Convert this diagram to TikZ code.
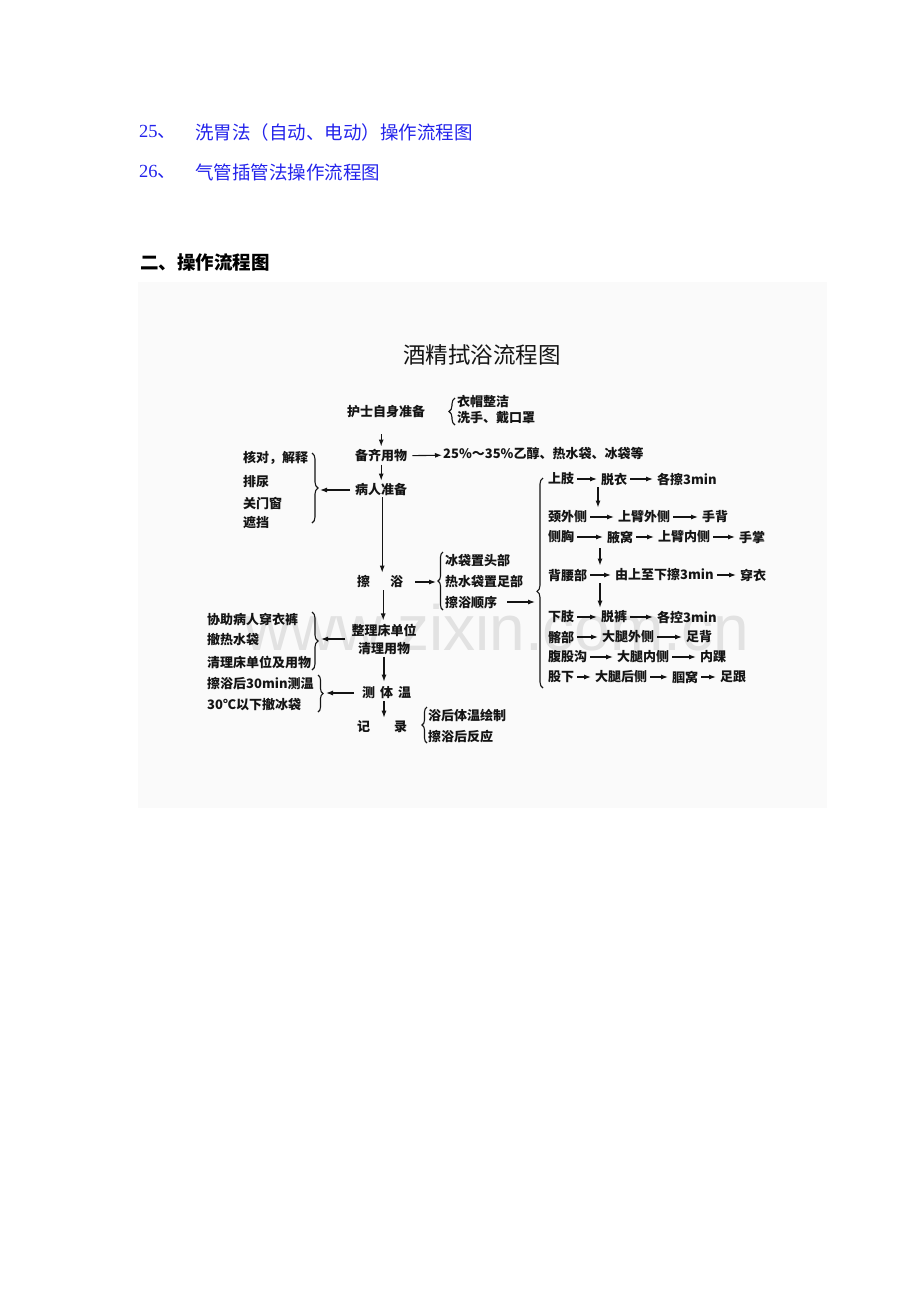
\documentclass[tikz,border=0pt]{standalone}
\usepackage{fontspec}
\setmainfont{Liberation Serif}
\newfontfamily\hei{Noto Sans CJK SC}
\newfontfamily\wmfont{Liberation Sans}
\usetikzlibrary{decorations.pathreplacing,arrows.meta}
\definecolor{linkblue}{RGB}{35,35,235}
\definecolor{paper}{RGB}{250,250,250}
\definecolor{wmark}{RGB}{226,226,226}
\definecolor{ink}{RGB}{20,20,20}
\tikzset{
	txt/.style={anchor=west,inner sep=0pt,text=ink,font=\hei\bfseries\fontsize{13}{18}\selectfont},
	brc/.style={draw=ink,line width=1.1pt,decorate,decoration={brace,amplitude=5pt}},
	arr/.style={->,draw=ink,line width=1.1pt,shorten <=2pt,shorten >=3pt},
	rarr/.style={->,draw=ink,line width=1.1pt,shorten <=3pt,shorten >=4pt},
}
\begin{document}
\begin{tikzpicture}[x=1pt,y=-1pt,>={Latex[length=7pt,width=5pt]}]
	\useasboundingbox (0,0) rectangle (920,1302);
	% text above the chart
	\path[every node/.style={anchor=west,inner sep=0pt,font=\fontsize{18.5}{20}\selectfont}]
		(139,132) node[text=linkblue] (n25) {25\hei 、}
		(195,132) node[text=linkblue] (t25) {\hei 洗胃法（自动、电动）操作流程图}
		(139,172) node[text=linkblue] (n26) {26\hei 、}
		(195,172) node[text=linkblue] (t26) {\hei 气管插管法操作流程图}
		(140,262) node (part2) {\hei\bfseries 二、操作流程图}
	;
	\fill[paper] (138,282) rectangle (827,808);
	\node[anchor=base west,inner sep=0pt,text=wmark,font=\wmfont\fontsize{64}{64}\selectfont] (wm) at (244,650) {www.zixin.com.cn};
	\node[inner sep=0pt,text=ink,font=\hei\fontsize{22.5}{24}\selectfont] (title) at (482,355) {酒精拭浴流程图};
	% main column
	\path[every node/.style=txt]
		(347,412) node (nurse) {护士自身准备}
		(457,401) node (dress) {衣帽整洁}
		(457,418) node (wash) {洗手、戴口罩}
		(355,456) node (prep) {备齐用物}
		(443,454) node (items) {25\%～35\%乙醇、热水袋、冰袋等}
		(355,490) node (patient) {病人准备}
		(243,458) node (check) {核对，解释}
		(243,482) node (urine) {排尿}
		(243,503) node (door) {关门窗}
		(243,523) node (screen) {遮挡}
		(357,582) node (bath) {擦\hspace{20pt}浴}
		(445,561) node (ice) {冰袋置头部}
		(445,582) node (hot) {热水袋置足部}
		(445,603) node (order) {擦浴顺序}
		(384,639) node[anchor=center,align=center] (bed) {整理床单位\\清理用物}
		(207,619) node (dressup) {协助病人穿衣裤}
		(207,640) node (nobag) {撤热水袋}
		(207,662) node (tidy) {清理床单位及用物}
		(362,693) node (temp) {测\hspace{5pt}体\hspace{5pt}温}
		(207,684) node (measure) {擦浴后30min测温}
		(207,705) node (below) {30℃以下撤冰袋}
		(357,727) node (record) {记\hspace{24pt}录}
		(428,715) node (chart) {浴后体温绘制}
		(428,737) node (react) {擦浴后反应}
	;
	% order of the rub
	\path[every node/.style=txt]
		(548,479) node (ua) {上肢}
		(601,479) node (ub) {脱衣}
		(657,479) node (uc) {各擦3min}
		(548,517) node (na) {颈外侧}
		(618,517) node (nb) {上臂外侧}
		(702,517) node (nc) {手背}
		(548,537) node (ca) {侧胸}
		(607,537) node (cb) {腋窝}
		(658,537) node (cc) {上臂内侧}
		(739,537) node (cd) {手掌}
		(548,575) node (ba) {背腰部}
		(615,575) node (bb) {由上至下擦3min}
		(740,575) node (bc) {穿衣}
		(548,617) node (la) {下肢}
		(601,617) node (lb) {脱裤}
		(657,617) node (lc) {各控3min}
		(548,637) node (ha) {髂部}
		(602,637) node (hb) {大腿外侧}
		(686,637) node (hc) {足背}
		(548,657) node (ga) {腹股沟}
		(617,657) node (gb) {大腿内侧}
		(700,657) node (gc) {内踝}
		(548,677) node (fa) {股下}
		(595,677) node (fb) {大腿后侧}
		(672,677) node (fc) {腘窝}
		(720,677) node (fd) {足跟}
	;
	% braces
	\draw[brc,decoration={amplitude=6pt}] (455,425) -- (455,398);
	\draw[brc,decoration={amplitude=6pt}] (312,453) -- (312,523);
	\draw[brc] (443,610) -- (443,552);
	\draw[brc,decoration={amplitude=6pt}] (312,612) -- (312,670);
	\draw[brc] (318,675) -- (318,712);
	\draw[brc] (427,743) -- (427,707);
	\draw[brc,decoration={amplitude=6pt,aspect=0.46}] (543,688) -- (543,478);
	\path
		(319,490) coordinate (tipa)
		(437,582) coordinate (tipb)
		(536,602) coordinate (tipc)
		(320,639) coordinate (tipd)
		(325,693) coordinate (tipe)
	;
	% main flow
	\draw[arr,shorten <=16pt] (prep.north |- nurse.south) -- (prep.north);
	\draw[arr] (patient.north |- prep.south) -- (patient.north);
	\draw[arr,shorten <=1pt] ([xshift=1pt]patient.south) -- ([xshift=1pt]patient.south |- bath.north);
	\draw[arr] ([xshift=3pt]bath.south) -- ([xshift=3pt]bath.south |- bed.north);
	\draw[arr,shorten >=5pt] (bed.south) -- (bed.south |- temp.north);
	\draw[arr] (bed.south |- temp.south) -- (bed.south |- record.north);
	\draw[arr,shorten <=5pt,shorten >=1pt] (prep) -- (items);
	\draw[arr,shorten <=5pt,shorten >=1pt] (patient) -- (tipa);
	\draw[arr,shorten <=12pt,shorten >=1pt] (bath) -- (tipb);
	\draw[arr,shorten <=10pt,shorten >=1pt] (order.east |- tipc) -- (tipc);
	\draw[arr,shorten <=6pt,shorten >=1pt] (bed) -- (tipd);
	\draw[arr,shorten <=8pt,shorten >=1pt] (temp) -- (tipe);
	% rows of the rub
	\draw[rarr] (ua) -- (ub);
	\draw[rarr] (ub) -- (uc);
	\draw[rarr] (na) -- (nb);
	\draw[rarr] (nb) -- (nc);
	\draw[rarr] (ca) -- (cb);
	\draw[rarr] (cb) -- (cc);
	\draw[rarr] (cc) -- (cd);
	\draw[rarr] (ba) -- (bb);
	\draw[rarr] (bb) -- (bc);
	\draw[rarr] (la) -- (lb);
	\draw[rarr] (lb) -- (lc);
	\draw[rarr] (ha) -- (hb);
	\draw[rarr] (hb) -- (hc);
	\draw[rarr] (ga) -- (gb);
	\draw[rarr] (gb) -- (gc);
	\draw[rarr] (fa) -- (fb);
	\draw[rarr] (fb) -- (fc);
	\draw[rarr] (fc) -- (fd);
	\draw[arr] ([xshift=-3pt]ub.south west) -- ([xshift=-3pt]ub.south west |- na.north);
	\draw[arr,shorten <=5pt] ([xshift=-7pt]cb.south west) -- ([xshift=-7pt]cb.south west |- ba.north);
	\draw[arr] ([xshift=-15pt]bb.south west) -- ([xshift=-15pt]bb.south west |- la.north);
\end{tikzpicture}
\end{document}
